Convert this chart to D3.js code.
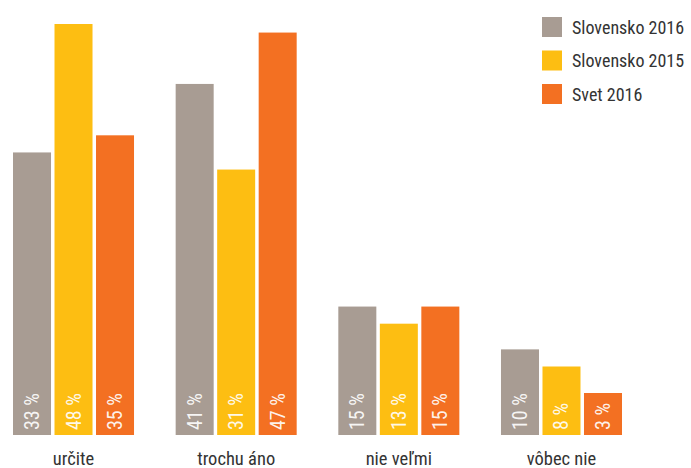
<!DOCTYPE html>
<html>
<head>
<meta charset="utf-8">
<script src="https://cdn.jsdelivr.net/npm/d3@7"></script>
<style>
  html, body { margin: 0; padding: 0; background: #fff; }
  svg { display: block; }
  text { font-family: "Liberation Sans Narrow", "Roboto Condensed", "Arial Narrow", sans-serif; }
</style>
</head>
<body>
<svg id="chart" width="691" height="468"></svg>
<script>
const categories = ["určite", "trochu áno", "nie veľmi", "vôbec nie"];
const seriesNames = ["Slovensko 2016", "Slovensko 2015", "Svet 2016"];
const slovensko2016 = [33, 41, 15, 10];
const slovensko2015 = [48, 31, 13, 8];
const svet2016 = [35, 47, 15, 3];
const colors = ["#a89c93", "#fdbe12", "#f37022"];

const seriesValues = [slovensko2016, slovensko2015, svet2016];

const svg = d3.select("#chart");
const baseline = 435;

const x0 = d3.scaleBand().domain(categories).range([13, 622]).paddingInner(0.256).paddingOuter(0);
const x1 = d3.scaleBand().domain(seriesNames).range([0, x0.bandwidth()]).paddingInner(0.0843).paddingOuter(0);
const y = d3.scaleLinear().domain([0, 48]).range([baseline, 24]);

const data = [];
categories.forEach((c, ci) => {
  seriesNames.forEach((s, si) => {
    data.push({ cat: c, series: s, si, value: seriesValues[si][ci] });
  });
});

const minBarH = 42; // bars are at least tall enough to hold their label
const g = svg.append("g");
const bars = g.selectAll("g.bar").data(data).join("g").attr("class", "bar")
  .attr("transform", d => `translate(${x0(d.cat) + x1(d.series)},0)`);

bars.append("rect")
  .attr("x", 0)
  .attr("width", x1.bandwidth())
  .attr("y", d => Math.min(y(d.value), baseline - minBarH))
  .attr("height", d => Math.max(baseline - y(d.value), minBarH))
  .attr("fill", d => colors[d.si]);

bars.append("text")
  .attr("transform", `translate(${x1.bandwidth() / 2 + 7},${baseline - 5}) rotate(-90)`)
  .attr("text-anchor", "start")
  .attr("fill", "#fff")
  .attr("fill-opacity", 0.92)
  .attr("font-size", 20)
  .text(d => d.value + " %");

// category axis labels
const xAxis = d3.axisBottom(x0).tickSize(0).tickPadding(0);
const axG = svg.append("g").attr("transform", `translate(0,${baseline})`).call(xAxis);
axG.select(".domain").remove();
axG.selectAll("text")
  .attr("y", 29.5)
  .attr("dy", 0)
  .attr("fill", "#333")
  .attr("font-size", 18.5)
  .style("font-family", '"Liberation Sans Narrow", "Roboto Condensed", "Arial Narrow", sans-serif');

// legend
const legend = svg.append("g").selectAll("g").data(seriesNames).join("g")
  .attr("transform", (d, i) => `translate(542,${17 + i * 33.5})`);
legend.append("rect").attr("width", 20).attr("height", 20).attr("fill", (d, i) => colors[i]);
legend.append("text").attr("x", 30).attr("y", 16.5).attr("fill", "#333").attr("font-size", 18).text(d => d);
</script>
</body>
</html>
